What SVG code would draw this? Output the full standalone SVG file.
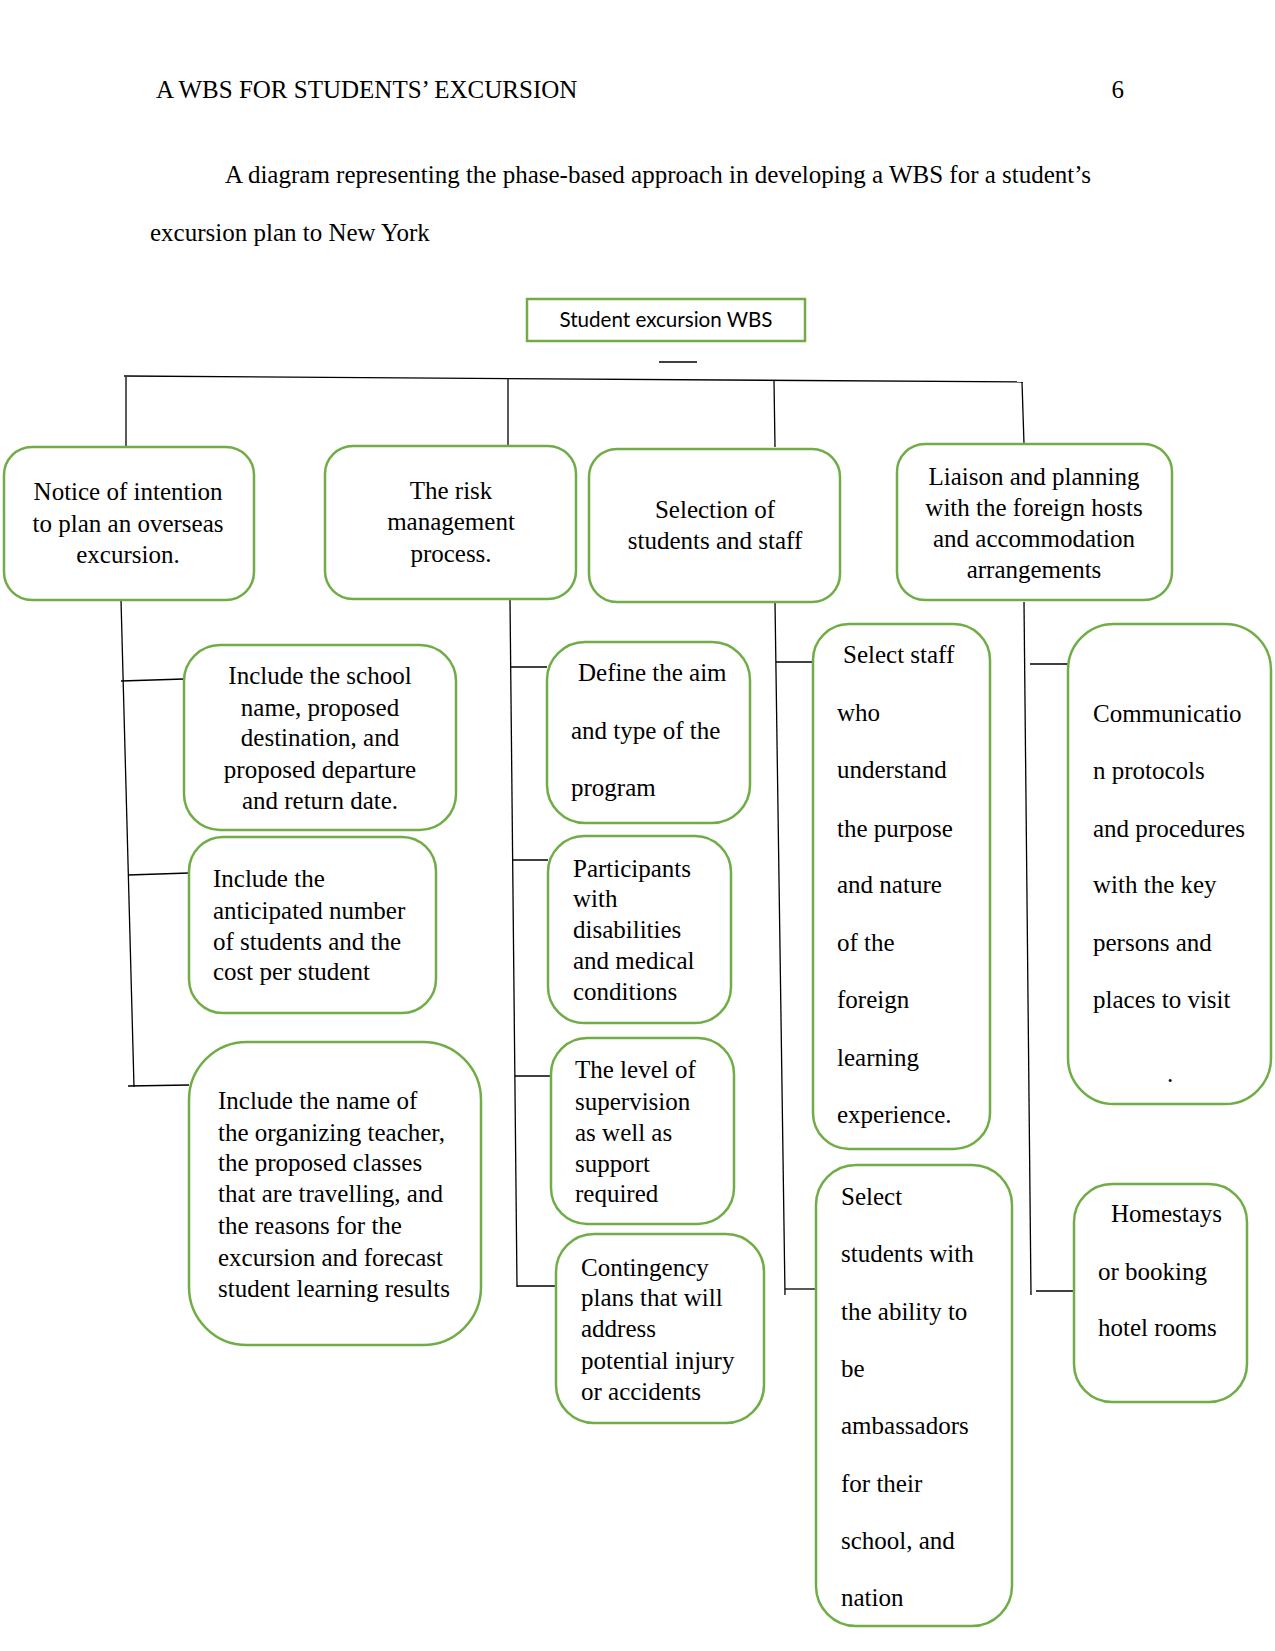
<svg xmlns="http://www.w3.org/2000/svg" width="1275" height="1651" viewBox="0 0 1275 1651">
<style>
.bg{fill:#ffffff}
.box{fill:#ffffff;stroke:#70AD47;stroke-width:2.5}
.conn{stroke:#000000;stroke-width:1.3;fill:none}
.t{font-family:"Liberation Serif","Times New Roman",serif;font-size:25px;fill:#000000}
.c{text-anchor:middle}
.s{font-family:Lato,"Liberation Sans",Arial,sans-serif;font-size:20.6px;fill:#000000;text-anchor:middle}
</style>
<rect class="bg" x="0" y="0" width="1275" height="1651"/>
<g id="header">
<text class="t" x="156" y="98">A WBS FOR STUDENTS’ EXCURSION</text>
<text class="t" x="1124" y="98" text-anchor="end">6</text>
<text class="t" x="225" y="183">A diagram representing the phase-based approach in developing a WBS for a student’s</text>
<text class="t" x="150" y="241">excursion plan to New York</text>
</g>
<g id="connectors">
<path class="conn" d="M659,362 H697"/>
<path class="conn" d="M124,376 L1023,382"/>
<path class="conn" d="M126,377 V446"/>
<path class="conn" d="M508,379 V445"/>
<path class="conn" d="M774,381 L775,447"/>
<path class="conn" d="M1022,382 L1024,444"/>
<path class="conn" d="M121,600 L134,1087"/>
<path class="conn" d="M121,681 L184,679"/>
<path class="conn" d="M128,875 L189,873"/>
<path class="conn" d="M128,1086 L189,1085"/>
<path class="conn" d="M510,600 L517,1287"/>
<path class="conn" d="M511,667 H547"/>
<path class="conn" d="M513,860 H548"/>
<path class="conn" d="M515,1076 H552"/>
<path class="conn" d="M517,1286 H556"/>
<path class="conn" d="M775,602 L785,1295"/>
<path class="conn" d="M776,662 H813"/>
<path class="conn" d="M785,1289 H816"/>
<path class="conn" d="M1024,602 L1031,1295"/>
<path class="conn" d="M1030,664 H1068"/>
<path class="conn" d="M1036,1291 H1075"/>
</g>
<g id="node-root">
<rect class="box" x="527" y="299" width="278" height="42"/>
<text class="s" x="666" y="327">Student excursion WBS</text>
</g>
<g id="node-notice">
<rect class="box" x="4" y="447" width="250" height="153" rx="28"/>
<text class="t c" x="128" y="500">Notice of intention</text>
<text class="t c" x="128" y="532">to plan an overseas</text>
<text class="t c" x="128" y="563">excursion.</text>
</g>
<g id="node-risk">
<rect class="box" x="325" y="446" width="251" height="153" rx="28"/>
<text class="t c" x="451" y="499">The risk</text>
<text class="t c" x="451" y="530">management</text>
<text class="t c" x="451" y="562">process.</text>
</g>
<g id="node-selection">
<rect class="box" x="589" y="449" width="251" height="153" rx="28"/>
<text class="t c" x="715" y="518">Selection of</text>
<text class="t c" x="715" y="549">students and staff</text>
</g>
<g id="node-liaison">
<rect class="box" x="897" y="444" width="275" height="156" rx="28"/>
<text class="t c" x="1034" y="485">Liaison and planning</text>
<text class="t c" x="1034" y="516">with the foreign hosts</text>
<text class="t c" x="1034" y="547">and accommodation</text>
<text class="t c" x="1034" y="578">arrangements</text>
</g>
<g id="node-school">
<rect class="box" x="184" y="645" width="272" height="185" rx="36"/>
<text class="t c" x="320" y="684">Include the school</text>
<text class="t c" x="320" y="716">name, proposed</text>
<text class="t c" x="320" y="746">destination, and</text>
<text class="t c" x="320" y="778">proposed departure</text>
<text class="t c" x="320" y="809">and return date.</text>
</g>
<g id="node-number">
<rect class="box" x="189" y="837" width="247" height="176" rx="34"/>
<text class="t" x="213" y="887">Include the</text>
<text class="t" x="213" y="919">anticipated number</text>
<text class="t" x="213" y="950">of students and the</text>
<text class="t" x="213" y="980">cost per student</text>
</g>
<g id="node-teacher">
<rect class="box" x="189" y="1042" width="292" height="303" rx="58"/>
<text class="t" x="218" y="1109">Include the name of</text>
<text class="t" x="218" y="1141">the organizing teacher,</text>
<text class="t" x="218" y="1171">the proposed classes</text>
<text class="t" x="218" y="1202">that are travelling, and</text>
<text class="t" x="218" y="1234">the reasons for the</text>
<text class="t" x="218" y="1266">excursion and forecast</text>
<text class="t" x="218" y="1297">student learning results</text>
</g>
<g id="node-aim">
<rect class="box" x="547" y="642" width="203" height="181" rx="38"/>
<text class="t" x="578" y="681">Define the aim</text>
<text class="t" x="571" y="739">and type of the</text>
<text class="t" x="571" y="796">program</text>
</g>
<g id="node-disabilities">
<rect class="box" x="548" y="836" width="183" height="187" rx="36"/>
<text class="t" x="573" y="877">Participants</text>
<text class="t" x="573" y="907">with</text>
<text class="t" x="573" y="938">disabilities</text>
<text class="t" x="573" y="969">and medical</text>
<text class="t" x="573" y="1000">conditions</text>
</g>
<g id="node-supervision">
<rect class="box" x="551" y="1038" width="183" height="186" rx="36"/>
<text class="t" x="575" y="1078">The level of</text>
<text class="t" x="575" y="1110">supervision</text>
<text class="t" x="575" y="1141">as well as</text>
<text class="t" x="575" y="1172">support</text>
<text class="t" x="575" y="1202">required</text>
</g>
<g id="node-contingency">
<rect class="box" x="556" y="1234" width="208" height="189" rx="38"/>
<text class="t" x="581" y="1276">Contingency</text>
<text class="t" x="581" y="1306">plans that will</text>
<text class="t" x="581" y="1337">address</text>
<text class="t" x="581" y="1369">potential injury</text>
<text class="t" x="581" y="1400">or accidents</text>
</g>
<g id="node-staff">
<rect class="box" x="813" y="624" width="177" height="525" rx="36"/>
<text class="t" x="843" y="663">Select staff</text>
<text class="t" x="837" y="721">who</text>
<text class="t" x="837" y="778">understand</text>
<text class="t" x="837" y="837">the purpose</text>
<text class="t" x="837" y="893">and nature</text>
<text class="t" x="837" y="951">of the</text>
<text class="t" x="837" y="1008">foreign</text>
<text class="t" x="837" y="1066">learning</text>
<text class="t" x="837" y="1123">experience.</text>
</g>
<g id="node-students">
<rect class="box" x="816" y="1165" width="196" height="461" rx="40"/>
<text class="t" x="841" y="1205">Select</text>
<text class="t" x="841" y="1262">students with</text>
<text class="t" x="841" y="1320">the ability to</text>
<text class="t" x="841" y="1377">be</text>
<text class="t" x="841" y="1434">ambassadors</text>
<text class="t" x="841" y="1492">for their</text>
<text class="t" x="841" y="1549">school, and</text>
<text class="t" x="841" y="1606">nation</text>
</g>
<g id="node-communication">
<rect class="box" x="1068" y="624" width="203" height="480" rx="46"/>
<text class="t" x="1093" y="722">Communicatio</text>
<text class="t" x="1093" y="779">n protocols</text>
<text class="t" x="1093" y="837">and procedures</text>
<text class="t" x="1093" y="893">with the key</text>
<text class="t" x="1093" y="951">persons and</text>
<text class="t" x="1093" y="1008">places to visit</text>
<text class="t" x="1167" y="1082">.</text>
</g>
<g id="node-homestays">
<rect class="box" x="1074" y="1184" width="173" height="218" rx="38"/>
<text class="t" x="1111" y="1222">Homestays</text>
<text class="t" x="1098" y="1280">or booking</text>
<text class="t" x="1098" y="1336">hotel rooms</text>
</g>
</svg>
